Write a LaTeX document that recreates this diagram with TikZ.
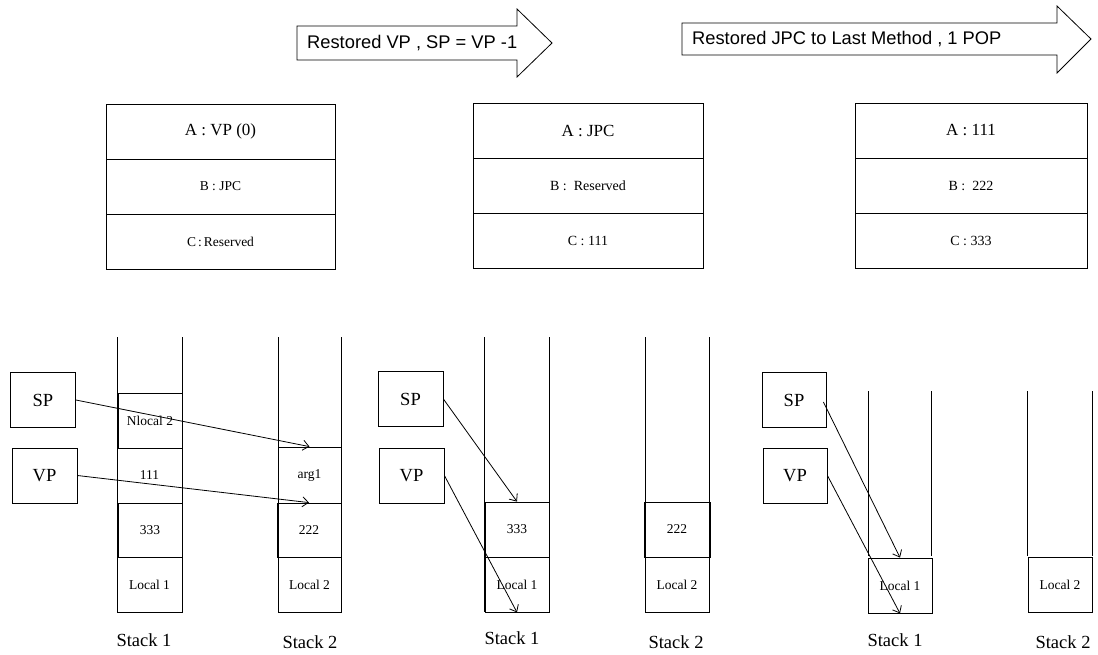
\documentclass[tikz,border=0pt]{standalone}
\usepackage{fontspec}
\setmainfont{Liberation Serif}
\setsansfont{Liberation Sans}
\usetikzlibrary{arrows.meta}
\tikzset{
  box/.style={draw, line width=0.8pt, inner sep=0pt, minimum height=55pt},
  fa/.style={font=\fontsize{17}{20}\selectfont},
  fb/.style={font=\fontsize{14}{17}\selectfont},
  fc/.style={font=\fontsize{13.5}{16}\selectfont},
  reg/.style={box, minimum width=65pt, font=\fontsize{18.5}{22}\selectfont},
  cell/.style={box, minimum width=64pt, font=\fontsize{13.5}{16}\selectfont},
  stk/.style={font=\fontsize{18.5}{22}\selectfont, inner sep=0pt},
  wall/.style={line width=0.8pt},
  ptr/.style={line width=0.8pt, -{Straight Barb[length=6pt,width=10pt]}},
  flow/.style={draw, line width=0.8pt, line join=miter},
  flowtxt/.style={font=\sffamily\fontsize{18.3}{22}\selectfont, anchor=west, inner sep=0pt},
}
\begin{document}
\begin{tikzpicture}[x=1pt, y=-1pt]
\useasboundingbox (0,0) rectangle (1098,654);

% ---- top flow arrows ----
\draw[flow] (297,26) -- (517,26) -- (517,9) -- (552,43) -- (517,77) -- (517,60) -- (297,60) -- cycle;
\node[flowtxt] (f1) at (307,43) {Restored VP , SP = VP -1};
\draw[flow] (682,23) -- (1057,23) -- (1057,6) -- (1091,39) -- (1057,73) -- (1057,55) -- (682,55) -- cycle;
\node[flowtxt] (f2) at (692,39) {Restored JPC to Last Method , 1 POP};

% ---- top register boxes ----
\node[box, minimum width=229pt, fa] (a1) at (220.5,131.5) {A : VP (0)};
\node[box, minimum width=229pt, fc] (b1) at (220.5,186.5) {B : JPC};
\node[box, minimum width=229pt, fc] (c1) at (220.5,241.5) {C\hspace{2pt}:\hspace{2pt}Reserved};

\node[box, minimum width=230pt, fa] (a2) at (588,130.5) {A : JPC};
\node[box, minimum width=230pt, fb] (b2) at (588,185.5) {B :\ \ Reserved};
\node[box, minimum width=230pt, fb] (c2) at (588,240.5) {C : 111};

\node[box, minimum width=232pt, fa] (a3) at (971,130.5) {A : 111};
\node[box, minimum width=232pt, fb] (b3) at (971,185.5) {B :\ \ 222};
\node[box, minimum width=232pt, fb] (c3) at (971,240.5) {C : 333};

% ---- panel 1 ----
\draw[wall] (117,337) -- (117,612);
\draw[wall] (182,337) -- (182,612);
\draw[wall] (278,337) -- (278,612);
\draw[wall] (341,337) -- (341,612);
\node[reg] (sp1) at (43,400) {SP};
\node[reg] (vp1) at (44.5,475.5) {VP};
\node[cell, minimum width=64pt] (n1) at (150,420.5) {Nlocal 2};
\node[cell, minimum width=65pt] (p1) at (149.5,475.5) {111};
\node[cell, minimum width=64pt, minimum height=54pt] (q1) at (150,530) {333};
\node[cell, minimum width=65pt] (l1) at (149.5,584.5) {Local 1};
\node[cell, minimum width=63pt, minimum height=56pt] (g1) at (309.5,475) {arg1};
\node[cell, minimum width=64pt, minimum height=54pt] (r1) at (309,530) {222};
\node[cell, minimum width=63pt] (m1) at (309.5,584.5) {Local 2};
\node[stk] (s11) at (144,640) {Stack 1};
\node[stk] (s21) at (310,642) {Stack 2};
\draw[ptr] (sp1.east) -- (g1.north);
\draw[ptr] (vp1.east) -- (r1.north);

% ---- panel 2 ----
\draw[wall] (484,337) -- (484,612);
\draw[wall] (549,337) -- (549,612);
\draw[wall] (645,337) -- (645,612);
\draw[wall] (709,337) -- (709,612);
\node[reg] (sp2) at (410.5,399) {SP};
\node[reg] (vp2) at (411.5,475.5) {VP};
\node[cell, minimum height=55pt] (q2) at (517,529.5) {333};
\node[cell] (l2) at (517,584.5) {Local 1};
\node[cell, minimum width=66pt] (r2) at (677,529.5) {222};
\node[cell] (m2) at (677,584.5) {Local 2};
\node[stk] (s12) at (512,638) {Stack 1};
\node[stk] (s22) at (676,642) {Stack 2};
\draw[ptr] (sp2.east) -- (q2.north);
\draw[ptr] (vp2.east) -- (l2.south);

% ---- panel 3 ----
\draw[wall] (868,391) -- (868,556);
\draw[wall] (931,391) -- (931,556);
\draw[wall] (1027,391) -- (1027,556);
\draw[wall] (1092,391) -- (1092,556);
\node[reg, minimum width=64pt] (sp3) at (794,400) {SP};
\node[reg, minimum width=64pt] (vp3) at (795,475.5) {VP};
\node[cell] (l3) at (900,585.5) {Local 1};
\node[cell] (m3) at (1060,584.5) {Local 2};
\node[stk] (s13) at (895,640) {Stack 1};
\node[stk] (s23) at (1063,642) {Stack 2};
\draw[ptr] ([xshift=-3pt,yshift=-2pt]sp3.east) -- (l3.north);
\draw[ptr] (vp3.east) -- (l3.south);
\end{tikzpicture}
\end{document}
